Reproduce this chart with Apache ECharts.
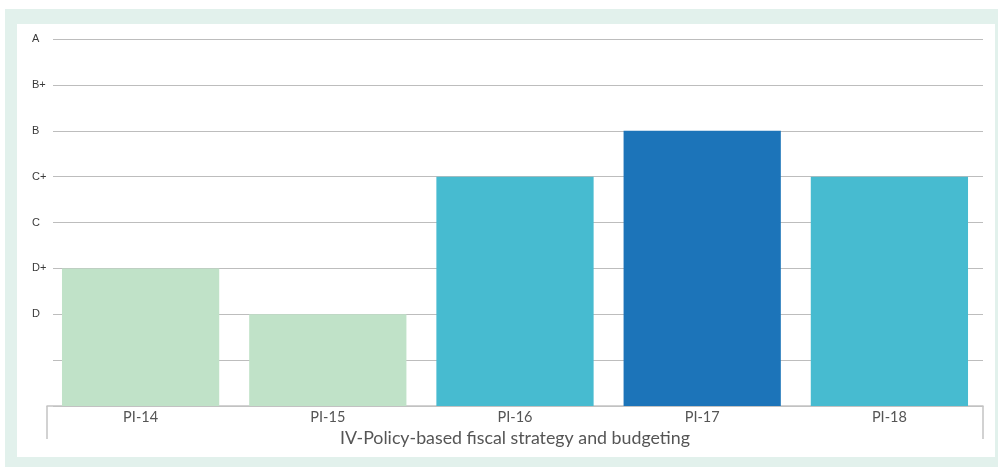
<!DOCTYPE html>
<html>
<head>
<meta charset="utf-8">
<script src="https://cdn.jsdelivr.net/npm/echarts@6/dist/echarts.min.js"></script>
<style>
  html, body { margin: 0; padding: 0; background: #ffffff; }
  #frame { position: absolute; left: 5px; top: 9px; width: 993px; height: 458px; background: #e2f1ec; }
  #panel { position: absolute; left: 12px; top: 15px; width: 978px; height: 433px; background: #ffffff; }
  #chart { position: absolute; left: 0; top: 0; width: 998px; height: 467px; }
</style>
</head>
<body>
<div id="frame"><div id="panel"></div></div>
<div id="chart"></div>
<script>
// PEFA indicator scores for pillar IV
const categories = ['PI-14', 'PI-15', 'PI-16', 'PI-17', 'PI-18'];
const groupLabel = ['IV-Policy-based fiscal strategy and budgeting'];
// Scores on the 0..8 scale (2 = D, 3 = D+, 4 = C, 5 = C+, 6 = B, 7 = B+, 8 = A)
const scores = [3, 2, 5, 6, 5];
const gradeLabels = ['', '', 'D', 'D+', 'C', 'C+', 'B', 'B+', 'A'];
// Colour group per bar
const colorGroup = [0, 0, 1, 2, 1];
const palette = ['#c0e2c8', '#47bbd0', '#1c74b9'];

const chart = echarts.init(document.getElementById('chart'), null, { renderer: 'canvas' });

const gridTop = 39, gridBottom = 61, gridRight = 15;

chart.setOption({
  animation: false,
  backgroundColor: 'transparent',
  grid: [
    { left: 53, right: gridRight, top: gridTop, bottom: gridBottom },
    { left: 47, right: gridRight, top: gridTop, bottom: gridBottom }
  ],
  yAxis: [
    {
      gridIndex: 0, type: 'value', min: 0, max: 8, interval: 1,
      axisLine: { show: false }, axisTick: { show: false },
      splitLine: { show: true, lineStyle: { color: '#bdbdbd', width: 1 } },
      axisLabel: {
        align: 'left', margin: 21, color: '#3a3a3a', fontSize: 11,
        fontFamily: 'Liberation Sans, Arial, sans-serif',
        formatter: v => gradeLabels[v] || ''
      }
    },
    { gridIndex: 1, type: 'value', min: 0, max: 8, interval: 1, show: false }
  ],
  xAxis: [
    { gridIndex: 0, type: 'category', data: categories, show: false },
    {
      gridIndex: 1, type: 'category', data: categories, position: 'bottom',
      axisLine: { show: true, lineStyle: { color: '#c4c4c4', width: 1.5 } },
      axisTick: { show: false },
      axisLabel: { margin: 4, color: '#555555', fontSize: 14.5, fontFamily: 'Lato, "Open Sans", sans-serif' }
    },
    {
      gridIndex: 1, type: 'category', data: groupLabel, position: 'bottom',
      axisLine: { show: false },
      axisTick: { show: true, length: 33, lineStyle: { color: '#c4c4c4', width: 1.5 } },
      axisLabel: { margin: 23, color: '#555555', fontSize: 17.8, fontFamily: 'Lato, "Open Sans", sans-serif' }
    }
  ],
  series: [
    {
      type: 'bar', xAxisIndex: 1, yAxisIndex: 1,
      barCategoryGap: '16%',
      data: scores.map((v, i) => ({ value: v, itemStyle: { color: palette[colorGroup[i]] } }))
    }
  ]
});
</script>
</body>
</html>
